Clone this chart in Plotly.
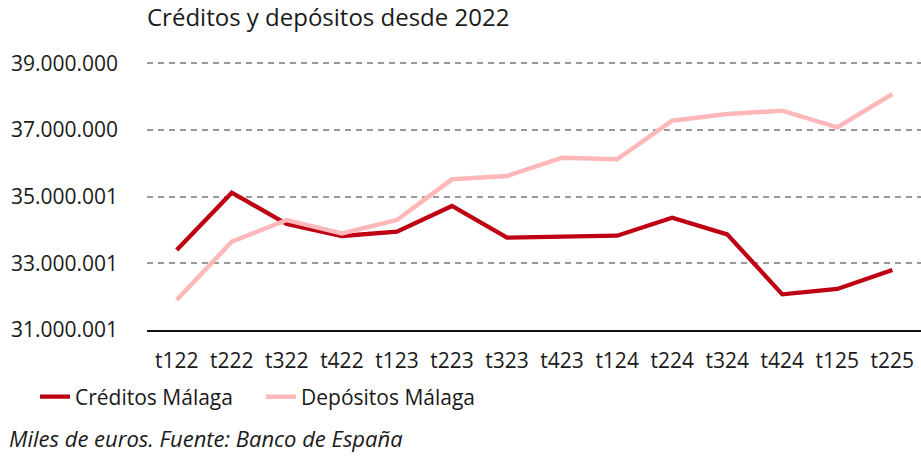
import plotly.graph_objects as go

categories = ["t122", "t222", "t322", "t422", "t123", "t223", "t323",
              "t423", "t124", "t224", "t324", "t424", "t125", "t225"]
creditos = [33400000, 35120000, 34180000, 33820000, 33950000, 34720000, 33770000,
            33800000, 33830000, 34370000, 33870000, 32070000, 32230000, 32800000]
depositos = [31900000, 33650000, 34300000, 33900000, 34300000, 35520000, 35620000,
             36170000, 36120000, 37280000, 37480000, 37580000, 37080000, 38080000]
y_tickvals = [31000001, 33000001, 35000001, 37000000, 39000000]
y_ticktext = ["31.000.001", "33.000.001", "35.000.001", "37.000.000", "39.000.000"]

FONT = "Open Sans"
TXT = "#1a1a1a"

# plot area: x 147..921, y 50..330
PL, PR, PT, PB = 147, 921, 50, 330
W, H = 921, 457
def px_x(x):
    return (x - PL) / (PR - PL)
def px_y(y):
    return (PB - y) / (PB - PT)

fig = go.Figure()
fig.add_trace(go.Scatter(x=categories, y=creditos, mode="lines", name="Créditos Málaga",
                         line=dict(color="#BD0012", width=4.3)))
fig.add_trace(go.Scatter(x=categories, y=depositos, mode="lines", name="Depósitos Málaga",
                         line=dict(color="#FFB8BA", width=4.5)))

fig.update_layout(
    width=W, height=H,
    margin=dict(l=PL, r=W - PR, t=PT, b=H - PB),
    paper_bgcolor="white", plot_bgcolor="white",
    font=dict(family=FONT, size=21, color=TXT),
    title=dict(text="Créditos y depósitos desde 2022", x=147/W, xanchor="left",
               y=1-18/H, yanchor="middle", font=dict(size=24, color=TXT)),
    showlegend=True,
    legend=dict(orientation="h", x=px_x(35), xanchor="left", y=px_y(397), yanchor="middle",
                font=dict(size=21), itemwidth=30, tracegroupgap=0, entrywidth=181,
                entrywidthmode="pixels"),
    xaxis=dict(range=[-0.54, 13.52], showgrid=False, showline=True, linecolor="#111",
               linewidth=2, ticks="", ticklabelstandoff=11, tickfont=dict(size=21)),
    yaxis=dict(range=[31000001, 39400000], tickvals=y_tickvals, ticktext=y_ticktext,
               showgrid=True, gridcolor="#999999", gridwidth=2, griddash="6px,5px",
               zeroline=False, showline=False, ticks="", ticklabelstandoff=28,
               tickfont=dict(size=21)),
    annotations=[dict(text="<i>Miles de euros. Fuente: Banco de España</i>", x=px_x(7), y=px_y(438),
                      xref="paper", yref="paper", xanchor="left", yanchor="middle",
                      showarrow=False, font=dict(size=22, color=TXT))],
)

fig.write_html("out.html", config={"displayModeBar": False},
               post_script="document.body.style.margin='0';")
